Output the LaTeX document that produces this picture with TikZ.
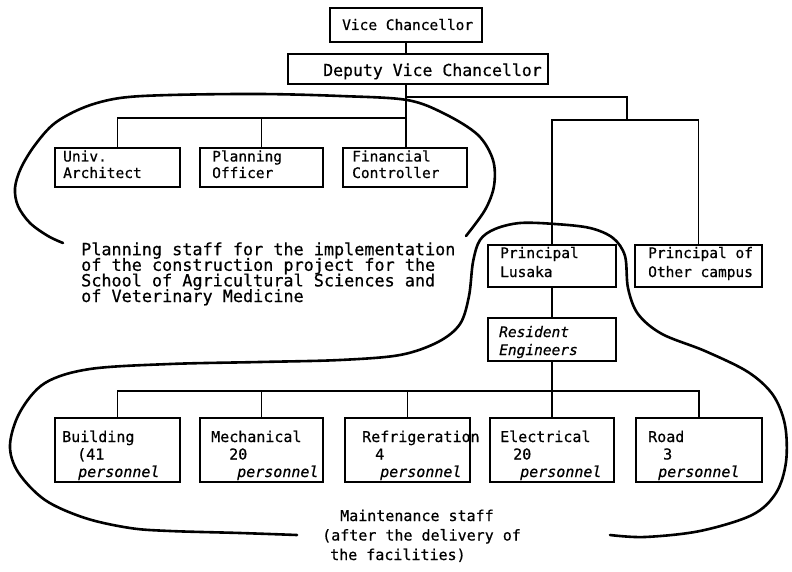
\documentclass[tikz,border=0pt]{standalone}
\usepackage{fontspec}
\newfontfamily\mono[FakeBold=0.6]{DejaVu Sans Mono}
\newcommand\tightlines{\lineskiplimit=-100pt\relax}
\begin{document}
\begin{tikzpicture}[x=1pt,y={(0pt,-1pt)},
  box/.style={draw, line width=1.1pt, inner sep=0pt},
  txt/.style={font=\mono\fontsize{14.5}{16.5}\selectfont\tightlines, inner sep=0pt, align=left, anchor=base west},
  ptxt/.style={font=\mono\fontsize{15}{17.5}\selectfont\tightlines, inner sep=0pt, align=left, anchor=base west},
  con/.style={line width=1.1pt},
  blob/.style={line width=2.6pt, line cap=round, line join=round}]
\useasboundingbox[fill=white] (0,0) rectangle (792,572);

% boxes
\node[box, minimum width=152pt, minimum height=34pt] (vc) at (406,25) {};
\node[box, minimum width=260pt, minimum height=30pt] (dvc) at (418,69) {};
\node[box, minimum width=125pt, minimum height=39pt] (ua) at (117.5,167.5) {};
\node[box, minimum width=123pt, minimum height=39pt] (po) at (261.5,167.5) {};
\node[box, minimum width=124pt, minimum height=39pt] (fc) at (405,167.5) {};
\node[box, minimum width=128pt, minimum height=42pt] (pl) at (552,266) {};
\node[box, minimum width=127pt, minimum height=42pt] (poc) at (698.5,266) {};
\node[box, minimum width=128pt, minimum height=43pt] (re) at (552,339.5) {};
\node[box, minimum width=125pt, minimum height=64pt] (b1) at (117.5,450) {};
\node[box, minimum width=123pt, minimum height=64pt] (b2) at (261.5,450) {};
\node[box, minimum width=125pt, minimum height=64pt] (b3) at (407.5,450) {};
\node[box, minimum width=124pt, minimum height=64pt] (b4) at (552,450) {};
\node[box, minimum width=126pt, minimum height=64pt] (b5) at (699,450) {};

% texts (anchor base = baseline of the last line)
\node[txt] (vct) at (342,30) {Vice Chancellor};
\node[txt, font=\mono\fontsize{16.5}{18}\selectfont] (dvct) at (323,76) {Deputy Vice Chancellor};
\node[txt] (uat) at (63,178) {Univ.\\Architect};
\node[txt] (pot) at (212,178) {Planning\\Officer};
\node[txt] (fct) at (352,178) {Financial\\Controller};
\node[txt, font=\mono\fontsize{14.5}{19}\selectfont\tightlines] (plt) at (500,277) {Principal\\Lusaka};
\node[txt, font=\mono\fontsize{14.5}{19}\selectfont\tightlines] (poct) at (648,277) {Principal of\\Other campus};
\node[txt, font=\mono\itshape\fontsize{14.5}{18}\selectfont\tightlines] (ret) at (499,355) {Resident\\Engineers};
\node[txt, font=\mono\fontsize{16.8}{15.6}\selectfont\tightlines] (plan) at (81,302) {Planning staff for the implementation\\of the construction project for the\\School of Agricultural Sciences and\\of Veterinary Medicine};

\node[ptxt] (b1t) at (55,477) {\hspace*{7pt}Building\\\hspace*{22pt}(41\\\hspace*{23pt}\textit{personnel}};
\node[ptxt] (b2t) at (200,477) {\hspace*{11pt}Mechanical\\\hspace*{29pt}20\\\hspace*{37pt}\textit{personnel}};
\node[ptxt] (b3t) at (345,477) {\hspace*{17pt}Refrigeration\\\hspace*{30pt}4\\\hspace*{35pt}\textit{personnel}};
\node[ptxt] (b4t) at (490,477) {\hspace*{10pt}Electrical\\\hspace*{23pt}20\\\hspace*{30pt}\textit{personnel}};
\node[ptxt] (b5t) at (636,477) {\hspace*{12pt}Road\\\hspace*{27pt}3\\\hspace*{22pt}\textit{personnel}};

\node[ptxt, font=\mono\fontsize{15}{19.5}\selectfont\tightlines] (maint) at (322,560) {\hspace*{18pt}Maintenance staff\\(after the delivery of\\\hspace*{8pt}the facilities)};

% connectors
\coordinate (j1) at (406,118);
\coordinate (j2) at (406,97);
\coordinate (j3) at (627,97);
\coordinate (j4) at (627,120);
\coordinate (j5) at (552,391);
\draw[con] (vc.south) -- (vc.south |- dvc.north);
\draw[con] (j1 |- dvc.south) -- (j1);
\draw[con] (j1) -| (ua.north);
\draw[con] (j1) -| (po.north);
\draw[con] (j1) -- (j1 |- fc.north);
\draw[con] (j2) -- (j3) -- (j4);
\draw[con] (j4) -| (pl.north);
\draw[con] (j4) -| (poc.north);
\draw[con] (pl.south) -- (re.north);
\draw[con] (re.south) -- (j5);
\draw[con] (j5) -| (b1.north);
\draw[con] (j5) -| (b2.north);
\draw[con] (j5) -| (b3.north);
\draw[con] (j5) -- (b4.north);
\draw[con] (j5) -| (b5.north);

% enclosing hand-drawn curves
\draw[blob] plot[smooth, tension=0.55] coordinates {(63,243) (48,236) (30,223) (18,206) (15,188) (21,168) (35,145) (55,123) (85,107) (120,98) (170,95) (260,94) (340,96) (407,100) (445,114) (478,135) (493,160) (494,186) (485,210) (466,236)};
\draw[blob] plot[smooth, tension=0.55] coordinates {(297,535) (240,533) (170,531) (130,528) (85,518) (45,500) (18,472) (10,445) (20,412) (45,383) (90,369) (170,364) (260,362) (340,360) (400,355) (438,342) (460,324) (469,296) (473,262) (480,240) (495,229) (520,223) (555,224) (590,228) (613,238) (625,256) (628,288) (638,314) (662,334) (705,351) (748,372) (773,395) (785,425) (786,462) (776,493) (752,515) (700,531) (645,537) (610,535)};
\end{tikzpicture}
\end{document}
